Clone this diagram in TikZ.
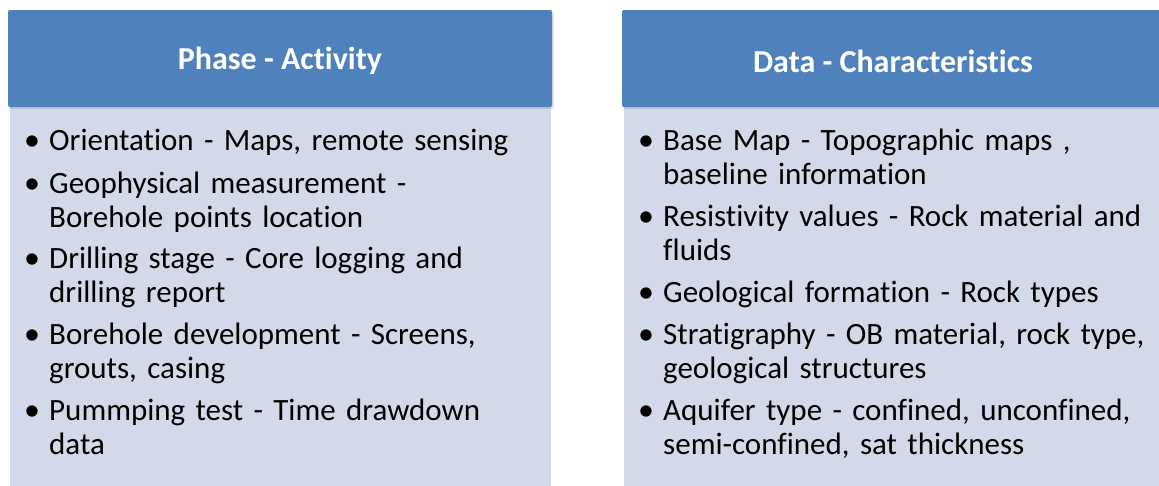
\documentclass[tikz,border=0pt]{standalone}
\usepackage{fontspec}
\setmainfont{Carlito}[Ligatures=NoCommon]
\usetikzlibrary{shadows}

\definecolor{headblue}{HTML}{4F81BD}
\definecolor{bodyblue}{HTML}{D2DAEA}

\tikzset{
	head/.style={fill=headblue, rounded corners=2pt, drop shadow={opacity=0.25, shadow xshift=1.5pt, shadow yshift=-2pt}},
	body/.style={fill=bodyblue},
	headtext/.style={text=white, font=\fontsize{32}{34}\selectfont\bfseries, inner sep=0pt},
	bullet/.style={anchor=base, font=\fontsize{32}{34}\selectfont, inner sep=0pt},
	entry/.style={anchor=base west, text width=500pt, align=left, font=\fontsize{31}{34}\selectfont, inner sep=0pt}
}

\begin{document}
\begin{tikzpicture}[x=1pt, y=-1pt]
			\useasboundingbox (0, 0) rectangle (1159, 485) ;
			\fill[body] (10, 100) rectangle (551, 490) ;
			\fill[body] (624, 100) rectangle (1165, 490) ;
			\fill[head] (8, 10) rectangle (552, 107) ;
			\fill[head] (622, 10) rectangle (1166, 107) ;
			\node[headtext] (PA)at(280, 61) {Phase - Activity};
			\node[headtext] (DC)at(893, 61) {Data - Characteristics};
			% left column
			\foreach \y/\name/\txt in {150/orient/{Orientation - Maps, remote sensing},
				193/geophys/{Geophysical measurement -\\Borehole points location},
				268/drill/{Drilling stage - Core logging and\\drilling report},
				344/develop/{Borehole development - Screens,\\grouts, casing},
				420/pump/{Pummping test - Time drawdown\\data}}
			{
				\node[bullet] (b\name)at(32, \y) {•};
				\node[entry] (\name)at(49, \y) {\txt};
			}
			% right column
			\foreach \y/\name/\txt in {150/basemap/{Base Map - Topographic maps ,\\baseline information},
				226/resist/{Resistivity values - Rock material and\\fluids},
				302/geoform/{Geological formation - Rock types},
				344/strat/{Stratigraphy - OB material, rock type,\\geological structures},
				420/aquifer/{Aquifer type - confined, unconfined,\\semi-confined, sat thickness}}
			{
				\node[bullet] (b\name)at(646, \y) {•};
				\node[entry] (\name)at(663, \y) {\txt};
			}
		\end{tikzpicture}
\end{document}
